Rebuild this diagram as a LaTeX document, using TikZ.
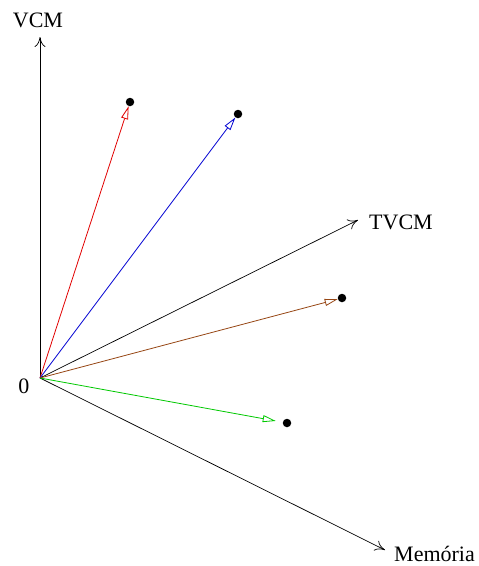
\documentclass[tikz,border=0pt]{standalone}
\usepackage{fontspec}
\setmainfont{Liberation Serif}
\usetikzlibrary{arrows.meta}

\definecolor{vecred}{RGB}{225,0,0}
\definecolor{vecblue}{RGB}{0,0,210}
\definecolor{vecbrown}{RGB}{150,70,20}
\definecolor{vecgreen}{RGB}{0,200,0}

\begin{document}
\begin{tikzpicture}[
    x=1pt, y=-1pt,
    font=\fontsize{22}{26}\selectfont,
    inner sep=1pt,
    axis/.style={-{Computer Modern Rightarrow[length=10pt,width=11pt]}, line width=0.7pt},
    vec/.style={-{Triangle[open,length=13pt,width=7pt]}, line width=0.8pt},
    dot/.style={circle, fill=black, inner sep=0pt, minimum size=8.5pt}
]
\useasboundingbox (0,0) rectangle (479,566);

% axes
\coordinate (O) at (40,378);
\coordinate (vtip) at (40,37);
\coordinate (ttip) at (358,220);
\coordinate (mtip) at (385,550);
\node (vlab) at (38,20) {VCM};
\node[anchor=west] (tlab) at (368,222) {TVCM};
\node[anchor=west] (mlab) at (393,554) {Memória};
\node (zero) at (24,386) {0};

\draw[axis] (O) -- (vtip);
\draw[axis] (O) -- (ttip);
\draw[axis] (O) -- (mtip);

% points
\node[dot] (pr) at (130,102) {};
\node[dot] (pb) at (238,114) {};
\node[dot] (pn) at (342,298) {};
\node[dot] (pg) at (287,423) {};

% vectors
\draw[vec, vecred] (O) -- (pr);
\draw[vec, vecblue] (O) -- (pb);
\draw[vec, vecbrown] (O) -- (pn);
\draw[vec, vecgreen, shorten >=7pt] (O) -- (pg);
\end{tikzpicture}
\end{document}
